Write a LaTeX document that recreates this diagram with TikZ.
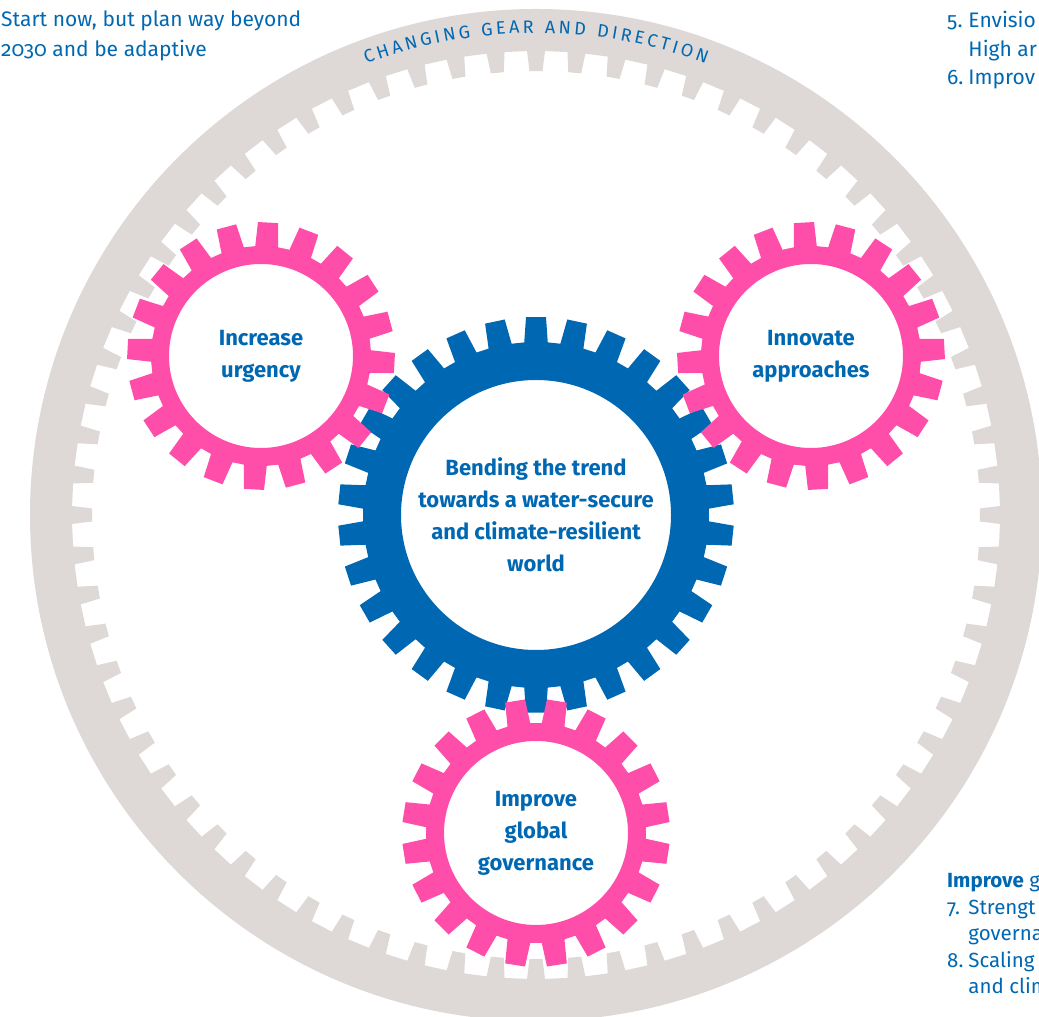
\documentclass[tikz,border=0pt]{standalone}
\usepackage{fontspec}
\setmainfont{Fira Sans}[Numbers=OldStyle]
\usepackage{tikz}
\usetikzlibrary{decorations.text}
\definecolor{gearpink}{RGB}{255,78,170}
\definecolor{gearblue}{RGB}{0,104,178}
\definecolor{ringgray}{RGB}{222,216,215}

% colour, centre, teeth, phase, circle r, base r, tip r, base half-angle, tip half-angle
\newcommand{\gearshape}[9]{%
  \fill[#1, even odd rule, shift={(#2)}]
    (#4+#8:#6) \foreach \k [evaluate=\k as \a using #4+\k*(360/#3)] in {1,...,#3}
      { -- (\a-#8:#6) -- (\a-#9:#7) -- (\a+#9:#7) -- (\a+#8:#6) } -- cycle
    (0,0) circle[radius=#5];}

\begin{document}
\begin{tikzpicture}[
  x=1pt, y=1pt,
  lbl/.style={text=gearblue, align=center, font=\bfseries\fontsize{22}{32}\selectfont},
  side/.style={text=gearblue, inner sep=0pt, font=\fontsize{21}{30}\selectfont}
]
  \useasboundingbox (0,0) rectangle (1039,1017);
  \clip (0,0) rectangle (1039,1017);

  % Centres
  \coordinate (mid) at (536,502);
  \coordinate (urg_c) at (261,661);
  \coordinate (inn_c) at (811,661);
  \coordinate (gov_c) at (536,184);

  % Ring
  \gearshape{ringgray}{mid}{72}{0}{506}{464}{444}{1.11}{0.84}
  \path[shift={(mid)}, decorate, decoration={text along path, text color=gearblue,
      text={|\fontsize{18}{18}\selectfont|CHANGING GEAR AND DIRECTION},
      text align={fit to path}}]
    (110.6:482) arc[start angle=110.6, end angle=69.4, radius=482];

  % Gears
  \gearshape{gearblue}{mid}{30}{90}{135}{173}{198}{3.9}{2.9}
  \gearshape{gearpink}{urg_c}{20}{15}{92}{110}{134}{6}{4.3}
  \gearshape{gearpink}{inn_c}{20}{3}{92}{110}{134}{6}{4.3}
  \gearshape{gearpink}{gov_c}{20}{9}{92}{110}{134}{6}{4.3}

  % Labels
  \node[lbl] (mid_t) at (mid) {Bending the trend\\towards a water-secure\\and climate-resilient\\world};
  \node[lbl] (urg_t) at (urg_c) {Increase\\urgency};
  \node[lbl] (inn_t) at (inn_c) {Innovate\\approaches};
  \node[lbl] (gov_t) at (gov_c) {Improve\\global\\governance};

  % Side texts
  \node[side, align=left, anchor=base west] (plan_t) at (1,960)
    {Start now, but plan way beyond\\2030 and be adaptive};
  \node[side, anchor=base west, font=\fontsize{21}{28.5}\selectfont] (list_a) at (947,989)
    {\begin{tabular}[t]{@{}l@{\hspace{5pt}}l@{}}
     5. & Envisio\\
        & High ar\\
     6. & Improv
     \end{tabular}};
  \node[side, anchor=base west, font=\fontsize{20.5}{26.5}\selectfont] (list_b) at (947,129)
    {\begin{tabular}[t]{@{}l@{\hspace{5pt}}l@{}}
     \multicolumn{2}{@{}l}{\textbf{Improve} g}\\
     7. & Strengt\\
        & governa\\
     8. & Scaling\\
        & and clim
     \end{tabular}};
\end{tikzpicture}
\end{document}
